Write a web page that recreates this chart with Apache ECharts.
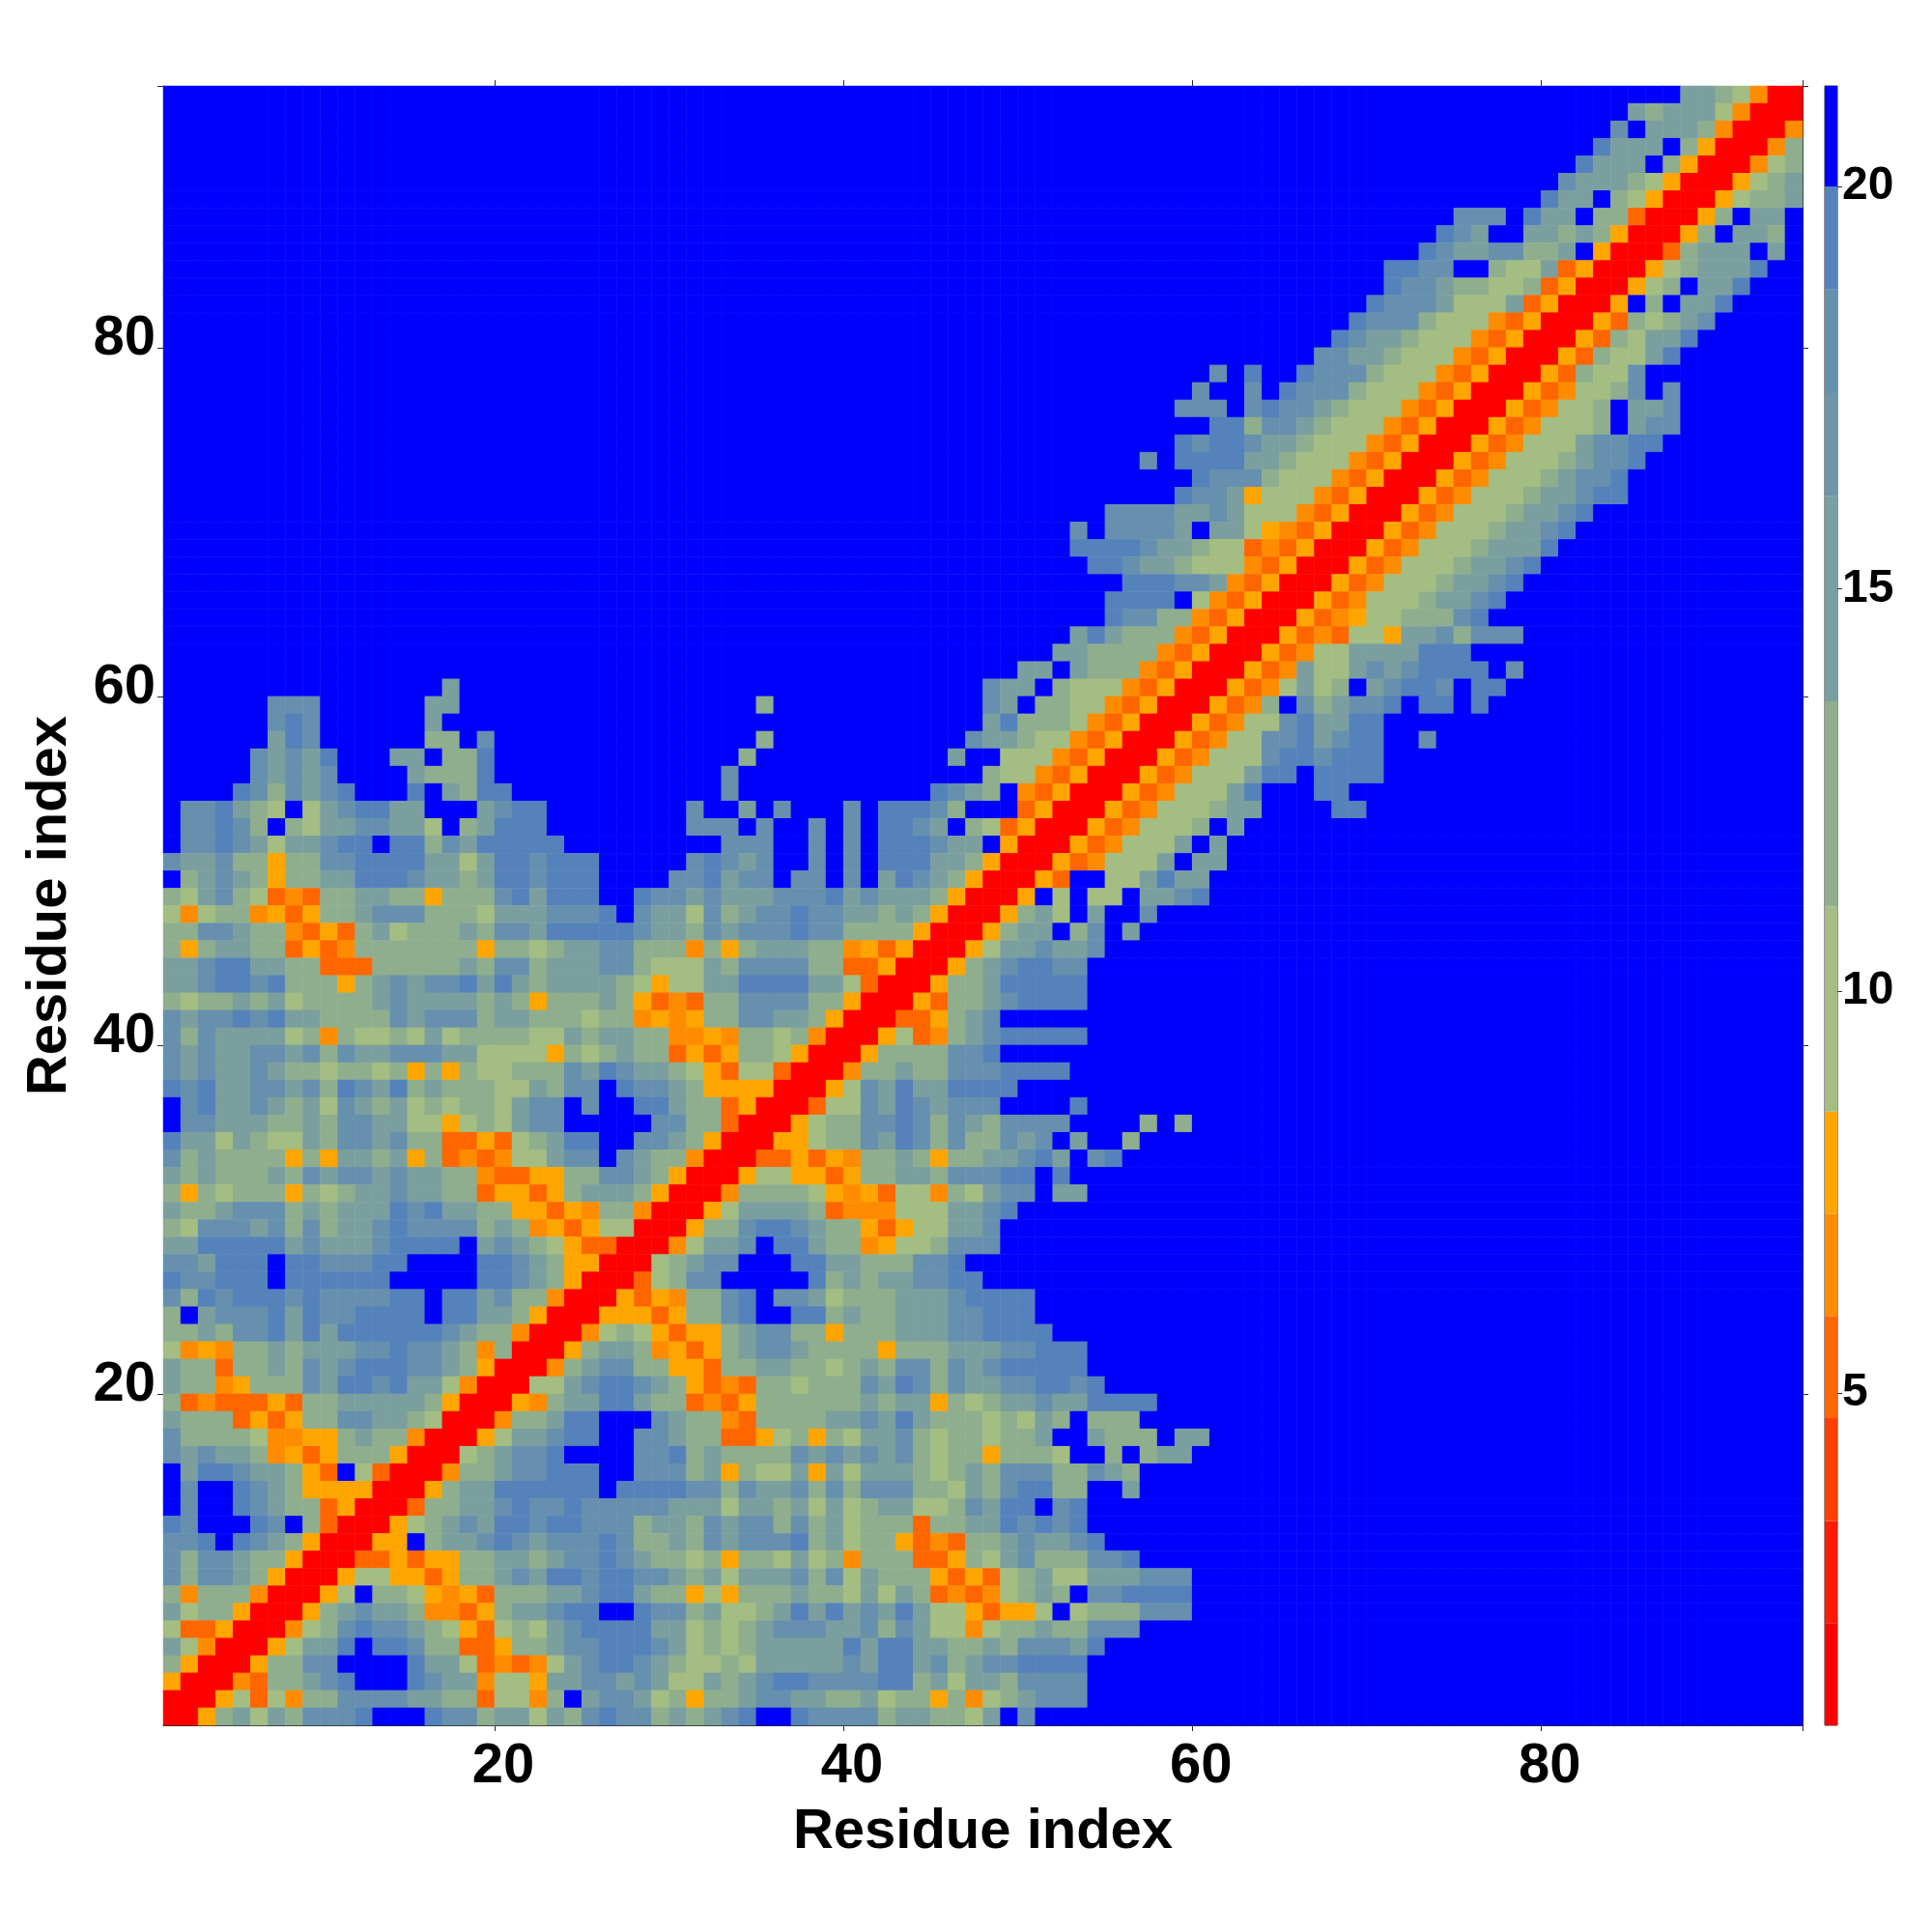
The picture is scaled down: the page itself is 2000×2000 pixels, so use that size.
<!DOCTYPE html>
<html>
<head>
<meta charset="utf-8">
<style>html,body{margin:0;padding:0;background:#fff}#chart{width:2000px;height:2000px}</style>
<script src="https://cdn.jsdelivr.net/npm/echarts@6/dist/echarts.min.js"></script>
</head>
<body>
<div id="chart"></div>
<script>
// Contact-map bins. Each row runs from residue y=94 down to y=1.
// "start:codes" = bin codes from residue x=start onward; anything unlisted is code 9 (beyond 20).
const codeRows = [
"88:6654200",
"85:6566642000",
"84:79666520002",
"83:866695300025",
"82:8666953000245",
"81:76665430003456",
"80:866954300034556",
"75:777 79:866955100035966",
"74:876 79:665653000359665",
"73:876677556930001566696",
"71:8877995446130003456668",
"71:877655445130003459668",
"70:877764446130003959668",
"69:877754442130003154567",
"68:876654442130003154668",
"67:776654442130003154468",
"61:7 63:8 66:87775444213000315447",
"60:7 63:7 65:877754442130003124457 87:7",
"59:777 63:7877654442130003124459667",
"61:885776544421300031244459677",
"59:8788766544421300031244467788",
"57:7 59:888866544421300031244456778",
"60:8777544421300031244456778",
"59:87763444213000312444566788",
"55:7777667644421300031244456678",
"53:79777769664321300031244456678",
"53:8888766544121300031244456668",
"54:88766544421300031244456678",
"56:88877621300031244456678",
"55:88889421300031244456678",
"55:8775521300031234455578",
"53:68655521300031214436675777",
"52:665555213000312446666888",
"50:66 53:655521300031264467678888 78:7",
"17:6 48:766954442130003124645967887988",
"7:777 16:66 35:5 48:76955442130003125975677898898",
"7:787 16:6 48:68555421300031244786688",
"7:687 16:55 19:7 35:5 47:766544213000312447786788 73:7",
"6:76768 14:66 17:55 19:8 34:5 46:6994442130003124447887888",
"6:76767 15:65558 33:7 48:54421300031244468898888",
"5:8757678 15:8 17:6588 33:7 45:8765921300031244468 67:88",
"2:77865494678866 19:6788 31:7 34:6 36:7 40:7 42:8887599913000312444566 68:88",
"2:778759546677664956888 31:77797 38:7 40:7 42:887695413000312444596",
"2:7787646678898857688888 33:777 38:7 40:7 42:88876693000312444696",
"1:7667553557788886646887888 31:78767 38:7 40:7 42:88866530003124446966",
"1:9567653556688876656887888 30:778677 37:77 40:7 42:6876530003199446866",
"1:5467541215566553555786888 28:877676667778676665300039494496678",
"1:42455231355677755546667778 28:766475677877665653000356496997",
"1:55776552131564555657768888 27:876657677787755553000356695796",
"1:53566551312555555535545667 27:7555253566655231300034667667",
"1:66788665511155555657756667 27:754446577775511300035678877",
"1:66788785553567677868656666 27:543446688886641000355688888",
"1:54556564555567666656535556 27:531215577775530003155678888",
"1:76778786655557677756655545 27:5232355776653000113567",
"1:75766664525445464555544656 27:655223255452000341256788888",
"1:76766776757667776644443545 27:6551313554300035555778",
"1:76766765545545353544555768 27:76654314410002556557778888",
"1:8786677675876856555446577 27:87765333300034768668888",
"1:9786676564765645455467797 28:886551300014476876777 53:8",
"1:97766655657766443454677 29:775510003455778757657777 57:5 59:5",
"1:8664654465776755113145688 28:776530003345576875755767 53:6 56:5",
"1:7565555353665635121244677 27:76552000113132556535566786 54:78",
"1:65655565767767665521133557 27:76530003443313556657778898",
"1:53545553545667665513313566 27:653000255554323144254677966",
"1:65567775656668786655331325 27:52000346666512224446678",
"1:54777675756678777756523134 27:4000355788765531344667",
"1:66888886766678888967654311 27:0002466798865523445777",
"1:77688898877788999988765330 27:00456779998866555778",
"1:87788898888889999988765300 27:014577999998565667788",
"1:75878887877778898867552000 27:313255789776455566678888",
"1:59677786877888898866530003 27:331355789988565566677888",
"1:55657786868888887655200024 27:5431335677553555666778888",
"1:42325565666778776525000356 27:652313567765555355566677888",
"1:65515565767888776530002567 27:755331556655456577576788888",
"1:65523555768878664200044678 27:8765312155455576875766778878",
"1:51211131556666653000325668 27:8655121355555565663545667668888",
"1:6555131355776654000255688 29:7655215555667686555454659555",
"1:7555542233565520003466788 28:776551134535466754554556996555966",
"1:76766523135553000456778 28:77856555576767675455355549959566",
"1:9688766531941000255677888 28:77756354463646665456577755765",
"1:9799876533330003566888888 27:888877576675757775546578855 56:6",
"1:97998765513000155667877877 27:777666466564645664457688978",
"1:87999879510003456768878877 27:756657677575645551556687878",
"1:77898765300033956678767778 27:7556576777856455312155676678",
"1:75776553000113133556656778 27:765545355464525551135467555778",
"1:757765300034433135567688788 28:77656466675746555313145644666777",
"1:525552000349554323155566788 28:65534355565546465121245659778888",
"1:645530003567665221356678899 28:87756445686867686443133494555777",
"1:411300024578776543145467888 28:86645456777667576442455655777",
"1:642000346689887551135567788 28:876454566666868866556577768",
"1:530003557799998664121246788 28:76544546666676886756778888",
"1:300021556789998766244366776 28:76446567887777885646657777",
"1:000341425577776655144259677 28:64535567766556455352456777",
"1:003564657778999877566465787 28:75656789987777566554697"
];
const residueCount = 94;
const codeDistances = [1.5, 5.3, 6.6, 7.9, 9.8, 12.3, 14.9, 18, 19.4, 21];
const colorBreaks = [0.87, 2.14, 3.41, 4.69, 5.96, 7.23, 8.5, 11.05, 13.6, 16.15, 17.43, 18.72, 20, 21.25];
const colorLevels = ['#ff0000','#ff1a00','#ff4000','#ff6600','#ff8c00','#ffa500','#a3bd82','#8fae8e','#7b9f9f','#6d96a9','#6690ae','#5582ba','#0000ff'];
const mainTicks = [20, 40, 60, 80];
const barTicks = [5, 10, 15, 20];
const axisTitle = 'Residue index';

const residues = Array.from({length: residueCount}, (_, i) => String(i + 1));
const cells = [];
codeRows.forEach((line, rowIndex) => {
  const y = residueCount - rowIndex;
  const codes = new Array(residueCount).fill(9);
  line.split(' ').forEach(seg => {
    const [start, digits] = seg.split(':');
    [...digits].forEach((d, k) => { codes[+start - 1 + k] = +d; });
  });
  codes.forEach((code, x) => cells.push([x, y - 1, codeDistances[code]]));
});

const font = 'Liberation Sans';
const line = {lineStyle: {color: '#2a2a2a', width: 1}};
const showTick = (i) => mainTicks.includes(i + 1);
const catAxis = (extra) => Object.assign({
  type: 'category', data: residues, gridIndex: 0,
  axisLine: Object.assign({show: true, onZero: false}, line),
  axisTick: Object.assign({show: true, alignWithTick: true, interval: showTick, length: 6}, line),
  axisLabel: {show: false},
  splitLine: {show: false}, splitArea: {show: false}
}, extra);
const labelStyle = {show: true, interval: showTick, color: '#000', fontFamily: font, fontWeight: 'bold', fontSize: 58};

const option = {
  backgroundColor: '#ffffff',
  animation: false,
  grid: [
    {left: 169, top: 89, width: 1697, height: 1697, containLabel: false},
    {left: 1889, top: 89, width: 13, height: 1697, containLabel: false, show: true, borderColor: '#2a2a2a', borderWidth: 1, backgroundColor: 'transparent'}
  ],
  xAxis: [
    catAxis({position: 'bottom', axisLabel: Object.assign({}, labelStyle, {margin: 14}),
      name: axisTitle, nameLocation: 'middle', nameGap: 82,
      nameTextStyle: {color: '#000', fontFamily: font, fontWeight: 'bold', fontSize: 58}}),
    catAxis({position: 'top'}),
    {type: 'category', data: ['bar'], gridIndex: 1, axisLine: {show: false}, axisTick: {show: false}, axisLabel: {show: false}}
  ],
  yAxis: [
    catAxis({position: 'left', axisLabel: Object.assign({}, labelStyle, {margin: 8}),
      name: axisTitle, nameLocation: 'middle', nameGap: 88,
      nameTextStyle: {color: '#000', fontFamily: font, fontWeight: 'bold', fontSize: 58}}),
    catAxis({position: 'right'}),
    {type: 'value', gridIndex: 1, position: 'right', min: colorBreaks[0], max: colorBreaks[colorBreaks.length - 1],
      splitLine: {show: false}, axisLine: {show: false},
      axisTick: Object.assign({show: true, length: 5, customValues: barTicks}, line),
      axisLabel: {show: true, customValues: barTicks, margin: 5, color: '#000', fontFamily: font, fontWeight: 'bold', fontSize: 48, formatter: v => String(v)}}
  ],
  visualMap: {
    show: false, type: 'piecewise', seriesIndex: 0, dimension: 2,
    pieces: colorLevels.map((color, i) => ({gte: colorBreaks[i], lt: colorBreaks[i + 1], color}))
  },
  series: [
    {type: 'heatmap', xAxisIndex: 0, yAxisIndex: 0, data: cells, progressive: 0, itemStyle: {borderWidth: 0}, emphasis: {disabled: true}}
  ].concat(colorLevels.map((color, i) => ({
    type: 'bar', xAxisIndex: 2, yAxisIndex: 2, stack: 'bar', barWidth: '100%', silent: true,
    itemStyle: {color},
    data: [i === 0 ? colorBreaks[1] : colorBreaks[i + 1] - colorBreaks[i]]
  })))
};
const chart = echarts.init(document.getElementById('chart'), null, {renderer: 'canvas'});
chart.setOption(option);
</script>
</body>
</html>
